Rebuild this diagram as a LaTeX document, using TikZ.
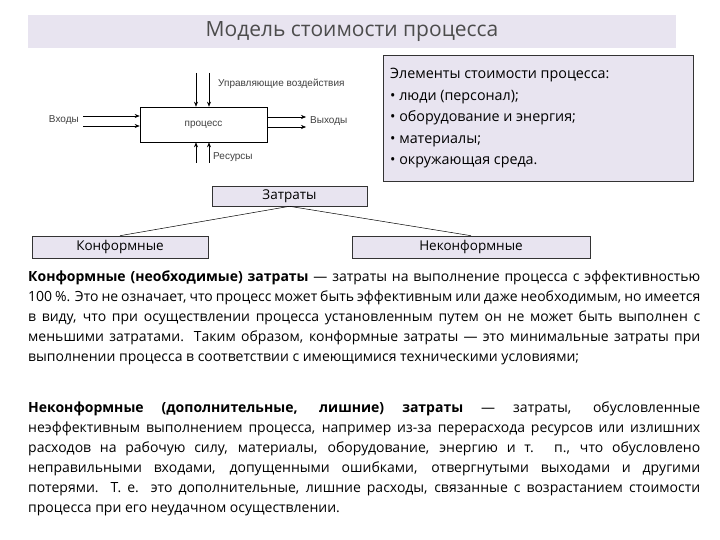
\documentclass[tikz,border=0pt]{standalone}
\usepackage{fontspec}
\setmainfont{Open Sans}
\newfontfamily\arialf{Liberation Sans}
\usetikzlibrary{arrows.meta}
\definecolor{lav}{RGB}{232,228,240}
\begin{document}
\begin{tikzpicture}[x=1pt,y=-1pt,
  lbox/.style={draw=black!80,fill=lav,line width=0.6pt},
  arr/.style={-{Stealth[length=5pt,width=4pt]},line width=0.5pt},
  sm/.style={font=\arialf\fontsize{10}{11}\selectfont,text=black!75,inner sep=1pt}]
\useasboundingbox (0,0) rectangle (720,540);
\fill[white] (0,0) rectangle (720,540);
\node[fill=lav,minimum width=648pt,minimum height=33pt,font=\fontsize{21}{24}\selectfont,text=black!70] (title) at (352,31.5) {Модель стоимости процесса};
% right box
\draw[lbox] (383,55) rectangle (693,181);
\node[anchor=north west,align=left,font=\fontsize{14.3}{21.5}\selectfont,inner sep=0pt] (elem) at (390,68)
{Элементы стоимости процесса:\\• люди (персонал);\\• оборудование и энергия;\\• материалы;\\• окружающая среда.};
% process diagram
\node[draw,line width=0.6pt,minimum width=127pt,minimum height=35pt,inner sep=0pt,sm] (proc) at (203.5,124.5) {процесс};
\coordinate (i1) at (83,116); \coordinate (i2) at (83,126);
\coordinate (o1) at (306,117); \coordinate (o2) at (306,127);
\coordinate (t1) at (196,73); \coordinate (t2) at (209,73);
\coordinate (b1) at (196,163); \coordinate (b2) at (209,163);
\draw[arr] (i1) -- (i1-|proc.west);
\draw[arr] (i2) -- (i2-|proc.west);
\draw[arr] (o1-|proc.east) -- (o1);
\draw[arr] (o2-|proc.east) -- (o2);
\draw[arr] (t1) -- (t1|-proc.north);
\draw[arr] (t2) -- (t2|-proc.north);
\draw[arr] (b1) -- (b1|-proc.south);
\draw[arr] (b2) -- (b2|-proc.south);
\node[sm,anchor=east] (inl) at (80,120) {Входы};
\node[sm,anchor=west] (outl) at (309,121) {Выходы};
\node[sm,anchor=west] (ctl) at (217,84) {Управляющие воздействия};
\node[sm,anchor=west] (resl) at (212,157) {Ресурсы};
% cost tree
\node[lbox,minimum width=155pt,minimum height=20pt,inner sep=0pt,font=\fontsize{13.5}{15}\selectfont] (z) at (289.5,196) {Затраты};
\node[lbox,minimum width=176pt,minimum height=22pt,inner sep=0pt,font=\fontsize{13.5}{15}\selectfont] (k) at (120,247) {Конформные};
\node[lbox,minimum width=238pt,minimum height=22pt,inner sep=0pt,font=\fontsize{13.5}{15}\selectfont] (n) at (471,247) {Неконформные};
\draw[line width=0.5pt] (z.south) -- (k.north);
\draw[line width=0.5pt] (z.south) -- (n.north);
% paragraphs
\node[anchor=north west,text width=672pt,align=justify,inner sep=0pt,font=\fontsize{14}{20}\selectfont] (p1) at (28,271)
{\textbf{Конформные (необходимые) затраты} — затраты на выполнение процесса с эффективностью 100~\%. Это не означает, что процесс может быть эффективным или даже необходимым, но имеется в виду, что при осуществлении процесса установленным путем он не может быть выполнен с меньшими затратами. Таким образом, конформные затраты — это минимальные затраты при выполнении процесса в соответствии с имеющимися техническими условиями;};
\node[anchor=north west,text width=672pt,align=justify,inner sep=0pt,font=\fontsize{14}{20}\selectfont] (p2) at (28,402)
{\textbf{Неконформные (дополнительные, лишние) затраты} — затраты, обусловленные неэффективным выполнением процесса, например из-за перерасхода ресурсов или излишних расходов на рабочую силу, материалы, оборудование, энергию и т. п., что обусловлено неправильными входами, допущенными ошибками, отвергнутыми выходами и другими потерями. Т. е. это дополнительные, лишние расходы, связанные с возрастанием стоимости процесса при его неудачном осуществлении.};
\end{tikzpicture}
\end{document}
